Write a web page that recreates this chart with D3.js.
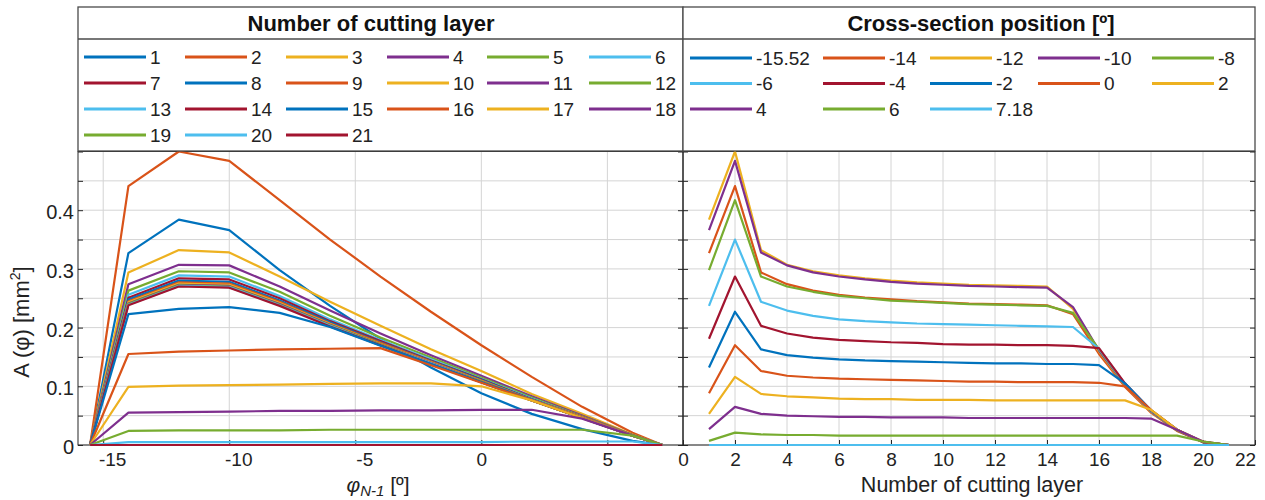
<!DOCTYPE html>
<html><head><meta charset="utf-8">
<script src="https://cdn.jsdelivr.net/npm/d3@7"></script>
<style>
html,body{margin:0;padding:0;background:#fff;}
svg{display:block;font-family:Arial,"Liberation Sans",Helvetica,sans-serif;}
</style></head><body>
<svg id="chart" width="1265" height="500"></svg>
<script>
// Cross-section positions φ (deg) and cutting layer numbers
const positions = [-15.52, -14, -12, -10, -8, -6, -4, -2, 0, 2, 4, 6, 7.18];
const positionLabels = ["-15.52", "-14", "-12", "-10", "-8", "-6", "-4", "-2", "0", "2", "4", "6", "7.18"];
const layers = [1, 2, 3, 4, 5, 6, 7, 8, 9, 10, 11, 12, 13, 14, 15, 16, 17, 18, 19, 20, 21];

// Chip cross-section area A (mm²) for layers 1..21, one array per position
const areaPosM15_52 = [0, 0, 0, 0, 0, 0, 0, 0, 0, 0, 0, 0, 0, 0, 0, 0, 0, 0, 0, 0, 0];
const areaPosM14 = [0.327, 0.441, 0.294, 0.274, 0.263, 0.256, 0.251, 0.248, 0.245, 0.243, 0.241, 0.240, 0.239, 0.238, 0.223, 0.155, 0.099, 0.055, 0.024, 0.005, 0];
const areaPosM12 = [0.384, 0.500, 0.332, 0.307, 0.296, 0.289, 0.284, 0.280, 0.277, 0.275, 0.273, 0.272, 0.271, 0.270, 0.232, 0.159, 0.101, 0.056, 0.025, 0.005, 0];
const areaPosM10 = [0.366, 0.484, 0.328, 0.306, 0.294, 0.287, 0.282, 0.278, 0.275, 0.273, 0.271, 0.270, 0.269, 0.268, 0.235, 0.161, 0.102, 0.057, 0.025, 0.005, 0];
const areaPosM8 = [0.298, 0.417, 0.287, 0.270, 0.261, 0.254, 0.250, 0.246, 0.244, 0.242, 0.240, 0.239, 0.238, 0.237, 0.225, 0.163, 0.103, 0.058, 0.025, 0.005, 0];
const areaPosM6 = [0.237, 0.350, 0.244, 0.229, 0.220, 0.214, 0.211, 0.209, 0.207, 0.206, 0.205, 0.204, 0.203, 0.202, 0.201, 0.164, 0.104, 0.058, 0.026, 0.005, 0];
const areaPosM4 = [0.181, 0.287, 0.203, 0.190, 0.183, 0.179, 0.177, 0.175, 0.174, 0.172, 0.171, 0.171, 0.170, 0.170, 0.169, 0.165, 0.105, 0.059, 0.026, 0.005, 0];
const areaPosM2 = [0.132, 0.227, 0.163, 0.153, 0.149, 0.146, 0.144, 0.143, 0.142, 0.141, 0.140, 0.139, 0.139, 0.138, 0.138, 0.136, 0.105, 0.059, 0.026, 0.005, 0];
const areaPos0 = [0.088, 0.170, 0.126, 0.118, 0.115, 0.113, 0.112, 0.111, 0.110, 0.109, 0.108, 0.108, 0.107, 0.107, 0.107, 0.106, 0.100, 0.060, 0.026, 0.005, 0];
const areaPos2 = [0.053, 0.116, 0.087, 0.083, 0.081, 0.079, 0.078, 0.078, 0.077, 0.077, 0.077, 0.076, 0.076, 0.076, 0.076, 0.076, 0.076, 0.060, 0.026, 0.006, 0];
const areaPos4 = [0.027, 0.065, 0.053, 0.050, 0.049, 0.048, 0.048, 0.047, 0.047, 0.047, 0.046, 0.046, 0.046, 0.046, 0.046, 0.046, 0.046, 0.045, 0.026, 0.006, 0];
const areaPos6 = [0.007, 0.021, 0.018, 0.017, 0.017, 0.016, 0.016, 0.016, 0.016, 0.016, 0.016, 0.016, 0.016, 0.016, 0.016, 0.016, 0.016, 0.016, 0.016, 0.006, 0];
const areaPos7_18 = [0, 0, 0, 0, 0, 0, 0, 0, 0, 0, 0, 0, 0, 0, 0, 0, 0, 0, 0, 0, 0];

// Axis ticks
const leftXTicks = [-15, -10, -5, 0, 5];
const rightXTicks = [0, 2, 4, 6, 8, 10, 12, 14, 16, 18, 20, 22];
const yTickLabels = [0, 0.1, 0.2, 0.3, 0.4];
const yGridTicks = [0, 0.05, 0.1, 0.15, 0.2, 0.25, 0.3, 0.35, 0.4, 0.45, 0.5];

const areaByPosition = [areaPosM15_52, areaPosM14, areaPosM12, areaPosM10, areaPosM8, areaPosM6,
  areaPosM4, areaPosM2, areaPos0, areaPos2, areaPos4, areaPos6, areaPos7_18];

// Default line colour cycle
const palette = ["#0072BD", "#D95319", "#EDB120", "#7E2F8E", "#77AC30", "#4DBEEE", "#A2142F"];
const colorOf = i => palette[i % palette.length];

const svg = d3.select("#chart");
svg.append("rect").attr("width", 1265).attr("height", 500).attr("fill", "#fff");

const plotTop = 151.5, plotBottom = 445;
const xL = d3.scaleLinear().domain([-16, 8]).range([78, 683]);
const xR = d3.scaleLinear().domain([0, 22]).range([683, 1255]);
const y = d3.scaleLinear().domain([0, 0.5]).range([plotBottom, plotTop]);

const axisColor = "#262626";
const gridColor = "#d4d4d4";
const font = "Arial, 'Liberation Sans', sans-serif";

function drawGrid(x, xTicks) {
  const g = svg.append("g");
  g.selectAll(".vg").data(xTicks).join("line")
    .attr("x1", d => x(d)).attr("x2", d => x(d))
    .attr("y1", plotTop).attr("y2", plotBottom)
    .attr("stroke", gridColor).attr("stroke-width", 1);
  g.selectAll(".hg").data(yGridTicks).join("line")
    .attr("x1", x.range()[0]).attr("x2", x.range()[1])
    .attr("y1", d => y(d)).attr("y2", d => y(d))
    .attr("stroke", gridColor).attr("stroke-width", 1);
}

// Axes boxes with inward ticks
function drawBox(x, xTicks, showY) {
  const [x0, x1] = x.range();
  const last = xTicks[xTicks.length - 1];
  const g = svg.append("g");
  g.append("rect").attr("x", x0).attr("y", plotTop).attr("width", x1 - x0).attr("height", plotBottom - plotTop)
    .attr("fill", "none").attr("stroke", axisColor).attr("stroke-width", 1);
  const ax = g.append("g").attr("transform", `translate(0,${plotBottom})`)
    .call(d3.axisBottom(x).tickValues(xTicks).tickSize(-5).tickPadding(8).tickFormat(d3.format("d")));
  ax.select(".domain").remove();
  ax.selectAll(".tick line").attr("stroke", axisColor);
  // a tick label sitting on the outer edge is pulled inside the page
  ax.selectAll(".tick text").attr("font-size", 19).attr("fill", "#222").attr("font-family", font)
    .attr("dx", d => d < 0 ? 9 : (x(d) >= 1250 && d === last ? -10 : 0))
    .text(d => d < 0 ? "-" + Math.abs(d) : d);
  const yl = g.append("g").attr("transform", `translate(${x0},0)`)
    .call(d3.axisLeft(y).tickValues(yGridTicks).tickSize(-5).tickFormat(""));
  yl.select(".domain").remove();
  yl.selectAll(".tick line").attr("stroke", axisColor);
  const yr = g.append("g").attr("transform", `translate(${x1},0)`)
    .call(d3.axisRight(y).tickValues(yGridTicks).tickSize(-5).tickFormat(""));
  yr.select(".domain").remove();
  yr.selectAll(".tick line").attr("stroke", axisColor);
  if (showY) {
    const yt = g.append("g").attr("transform", `translate(${x0},0)`)
      .call(d3.axisLeft(y).tickValues(yTickLabels).tickSize(0).tickPadding(4).tickFormat(d => d === 0 ? "0" : d3.format(".1f")(d)));
    yt.select(".domain").remove();
    yt.selectAll(".tick text").attr("font-size", 20).attr("fill", "#222")
      .attr("font-family", font).attr("dy", "0.42em");
  }
}

drawGrid(xL, leftXTicks);
drawGrid(xR, rightXTicks);
drawBox(xL, leftXTicks, true);
drawBox(xR, rightXTicks, false);

const line = (x) => d3.line().x(d => x(d[0])).y(d => y(d[1]));

// Left panel: one line per cutting layer across positions
const gL = svg.append("g").attr("fill", "none").attr("stroke-width", 2.2).attr("stroke-linejoin", "round");
layers.forEach((layer, i) => {
  const pts = positions.map((p, j) => [p, areaByPosition[j][i]]);
  gL.append("path").attr("d", line(xL)(pts)).attr("stroke", colorOf(i));
});

// Right panel: one line per position across cutting layers
const gR = svg.append("g").attr("fill", "none").attr("stroke-width", 2.2).attr("stroke-linejoin", "round");
positions.forEach((p, j) => {
  const pts = layers.map((l, i) => [l, areaByPosition[j][i]]);
  gR.append("path").attr("d", line(xR)(pts)).attr("stroke", colorOf(j));
});

// Axis titles
const yTitle = svg.append("text").attr("transform", "translate(29,322) rotate(-90)")
  .attr("text-anchor", "middle").attr("font-size", 22).attr("fill", "#222");
yTitle.append("tspan").text("A (φ) [mm");
yTitle.append("tspan").attr("font-size", 14).attr("dy", -9).text("2");
yTitle.append("tspan").attr("dy", 9).text("]");

const xTitleL = svg.append("text").attr("x", 378).attr("y", 492)
  .attr("text-anchor", "middle").attr("font-size", 21).attr("fill", "#222");
xTitleL.append("tspan").attr("font-style", "italic").text("φ");
xTitleL.append("tspan").attr("font-style", "italic").attr("font-size", 15).attr("dy", 4).text("N-1");
xTitleL.append("tspan").attr("dy", -4).text(" [º]");

svg.append("text").attr("x", 972).attr("y", 492).attr("text-anchor", "middle")
  .attr("font-size", 21.5).attr("fill", "#222").text("Number of cutting layer");

// Legends
function drawLegend(x0, x1, titleX, title, labels, colX, rowY0, rowStep) {
  const g = svg.append("g");
  g.append("rect").attr("x", x0).attr("y", 7).attr("width", x1 - x0).attr("height", 144)
    .attr("fill", "#fff").attr("stroke", "#4a4a4a").attr("stroke-width", 1.3);
  g.append("line").attr("x1", x0).attr("x2", x1).attr("y1", 39).attr("y2", 39)
    .attr("stroke", "#4a4a4a").attr("stroke-width", 1.3);
  g.append("text").attr("x", titleX).attr("y", 31).attr("text-anchor", "middle")
    .attr("font-size", 22).attr("font-weight", "bold").attr("fill", "#111").text(title);
  const n = colX.length;
  labels.forEach((lab, i) => {
    const cx = colX[i % n], cy = rowY0 + Math.floor(i / n) * rowStep;
    g.append("line").attr("x1", cx).attr("x2", cx + 62).attr("y1", cy).attr("y2", cy)
      .attr("stroke", colorOf(i)).attr("stroke-width", 3);
    g.append("text").attr("x", cx + 66).attr("y", cy).attr("dy", "0.36em")
      .attr("font-size", 19).attr("fill", "#222").text(lab);
  });
}
drawLegend(78, 683, 371, "Number of cutting layer", layers.map(String),
  [84, 185, 286, 387, 487, 589], 57, 26);
drawLegend(683, 1255, 981, "Cross-section position [º]", positionLabels,
  [690, 823, 930, 1038, 1152], 58, 25.5);
</script>
</body></html>
